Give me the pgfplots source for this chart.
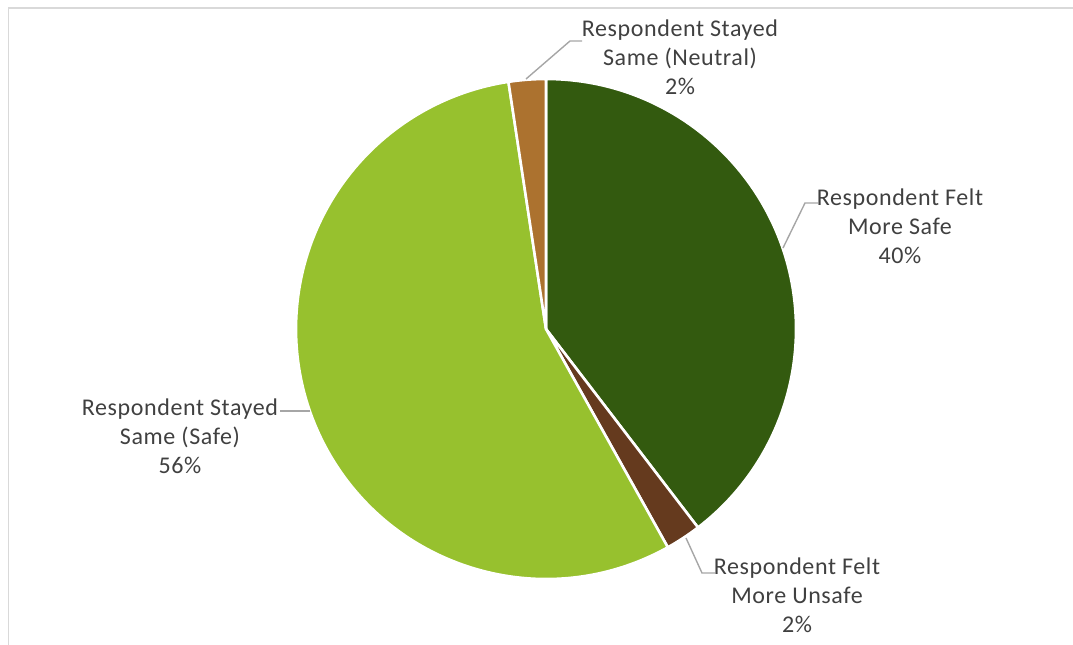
\documentclass[border=0pt]{standalone}
\usepackage{pgfplots}
\pgfplotsset{compat=1.18}
\usepackage{fontspec}
\setmainfont[LetterSpace=2.5]{Carlito}
\definecolor{cSafe}{HTML}{335A0F}
\definecolor{cUnsafe}{HTML}{653A1E}
\definecolor{cStaySafe}{HTML}{97C12E}
\definecolor{cNeutral}{HTML}{AC722F}
\definecolor{txt}{HTML}{404040}
\definecolor{lead}{HTML}{A6A6A6}
\definecolor{frame}{HTML}{D9D9D9}
% values (percent), clockwise from 12 o'clock
\def\vA{39.6}% Respondent Felt More Safe
\def\vB{2.3}%  Respondent Felt More Unsafe
\def\vC{55.7}% Respondent Stayed Same (Safe)
\def\vD{2.4}%  Respondent Stayed Same (Neutral)
\pgfmathsetmacro\aA{90}
\pgfmathsetmacro\aB{90-3.6*\vA}
\pgfmathsetmacro\aC{90-3.6*(\vA+\vB)}
\pgfmathsetmacro\aD{90-3.6*(\vA+\vB+\vC)}
\pgfmathsetmacro\aE{90-3.6*(\vA+\vB+\vC+\vD)}
\begin{document}
\begin{tikzpicture}
\begin{axis}[
  hide axis, x=125pt, y=125pt,
  xmin=-2.184, xmax=2.108, ymin=-1.26, ymax=1.316,
  clip=false,
]
\coordinate (SW) at (axis cs:-2.184,-1.26);
\coordinate (NE) at (axis cs:2.108,1.316);
\draw[frame, line width=0.9pt, overlay] (axis cs:-2.15,-1.5) -- (axis cs:-2.15,1.284) -- (axis cs:2.3,1.284);
\filldraw[fill=cSafe, draw=white, line width=1.3pt, line join=round] (axis cs:0,0) -- (axis cs:{cos(\aA)},{sin(\aA)}) arc[start angle=\aA, end angle=\aB, radius=125pt] -- cycle;
\filldraw[fill=cUnsafe, draw=white, line width=1.3pt, line join=round] (axis cs:0,0) -- (axis cs:{cos(\aB)},{sin(\aB)}) arc[start angle=\aB, end angle=\aC, radius=125pt] -- cycle;
\filldraw[fill=cStaySafe, draw=white, line width=1.3pt, line join=round] (axis cs:0,0) -- (axis cs:{cos(\aC)},{sin(\aC)}) arc[start angle=\aC, end angle=\aD, radius=125pt] -- cycle;
\filldraw[fill=cNeutral, draw=white, line width=1.3pt, line join=round] (axis cs:0,0) -- (axis cs:{cos(\aD)},{sin(\aD)}) arc[start angle=\aD, end angle=\aE, radius=125pt] -- cycle;
% leader lines
\draw[lead, line width=0.7pt] (axis cs:0.144,1.152) -- (axis cs:0.096,1.152) -- (axis cs:-0.08,1.0);
\draw[lead, line width=0.7pt] (axis cs:1.088,0.504) -- (axis cs:1.036,0.504) -- (axis cs:0.948,0.324);
\draw[lead, line width=0.7pt] (axis cs:0.676,-0.976) -- (axis cs:0.624,-0.976) -- (axis cs:0.56,-0.836);
\draw[lead, line width=0.7pt] (axis cs:-1.064,-0.328) -- (axis cs:-0.944,-0.328);
% labels
\begin{scope}[every node/.style={font=\fontsize{12}{14.5}\selectfont, text=txt, align=center}]
\node at (axis cs:0.536,1.088) {Respondent Stayed\\Same (Neutral)\\2\%};
\node at (axis cs:1.416,0.412) {Respondent Felt\\More Safe\\40\%};
\node at (axis cs:1.004,-1.064) {Respondent Felt\\More Unsafe\\2\%};
\node at (axis cs:-1.464,-0.428) {Respondent Stayed\\Same (Safe)\\56\%};
\end{scope}
\end{axis}
\pgfresetboundingbox
\useasboundingbox (SW) rectangle (NE);
\end{tikzpicture}
\end{document}
